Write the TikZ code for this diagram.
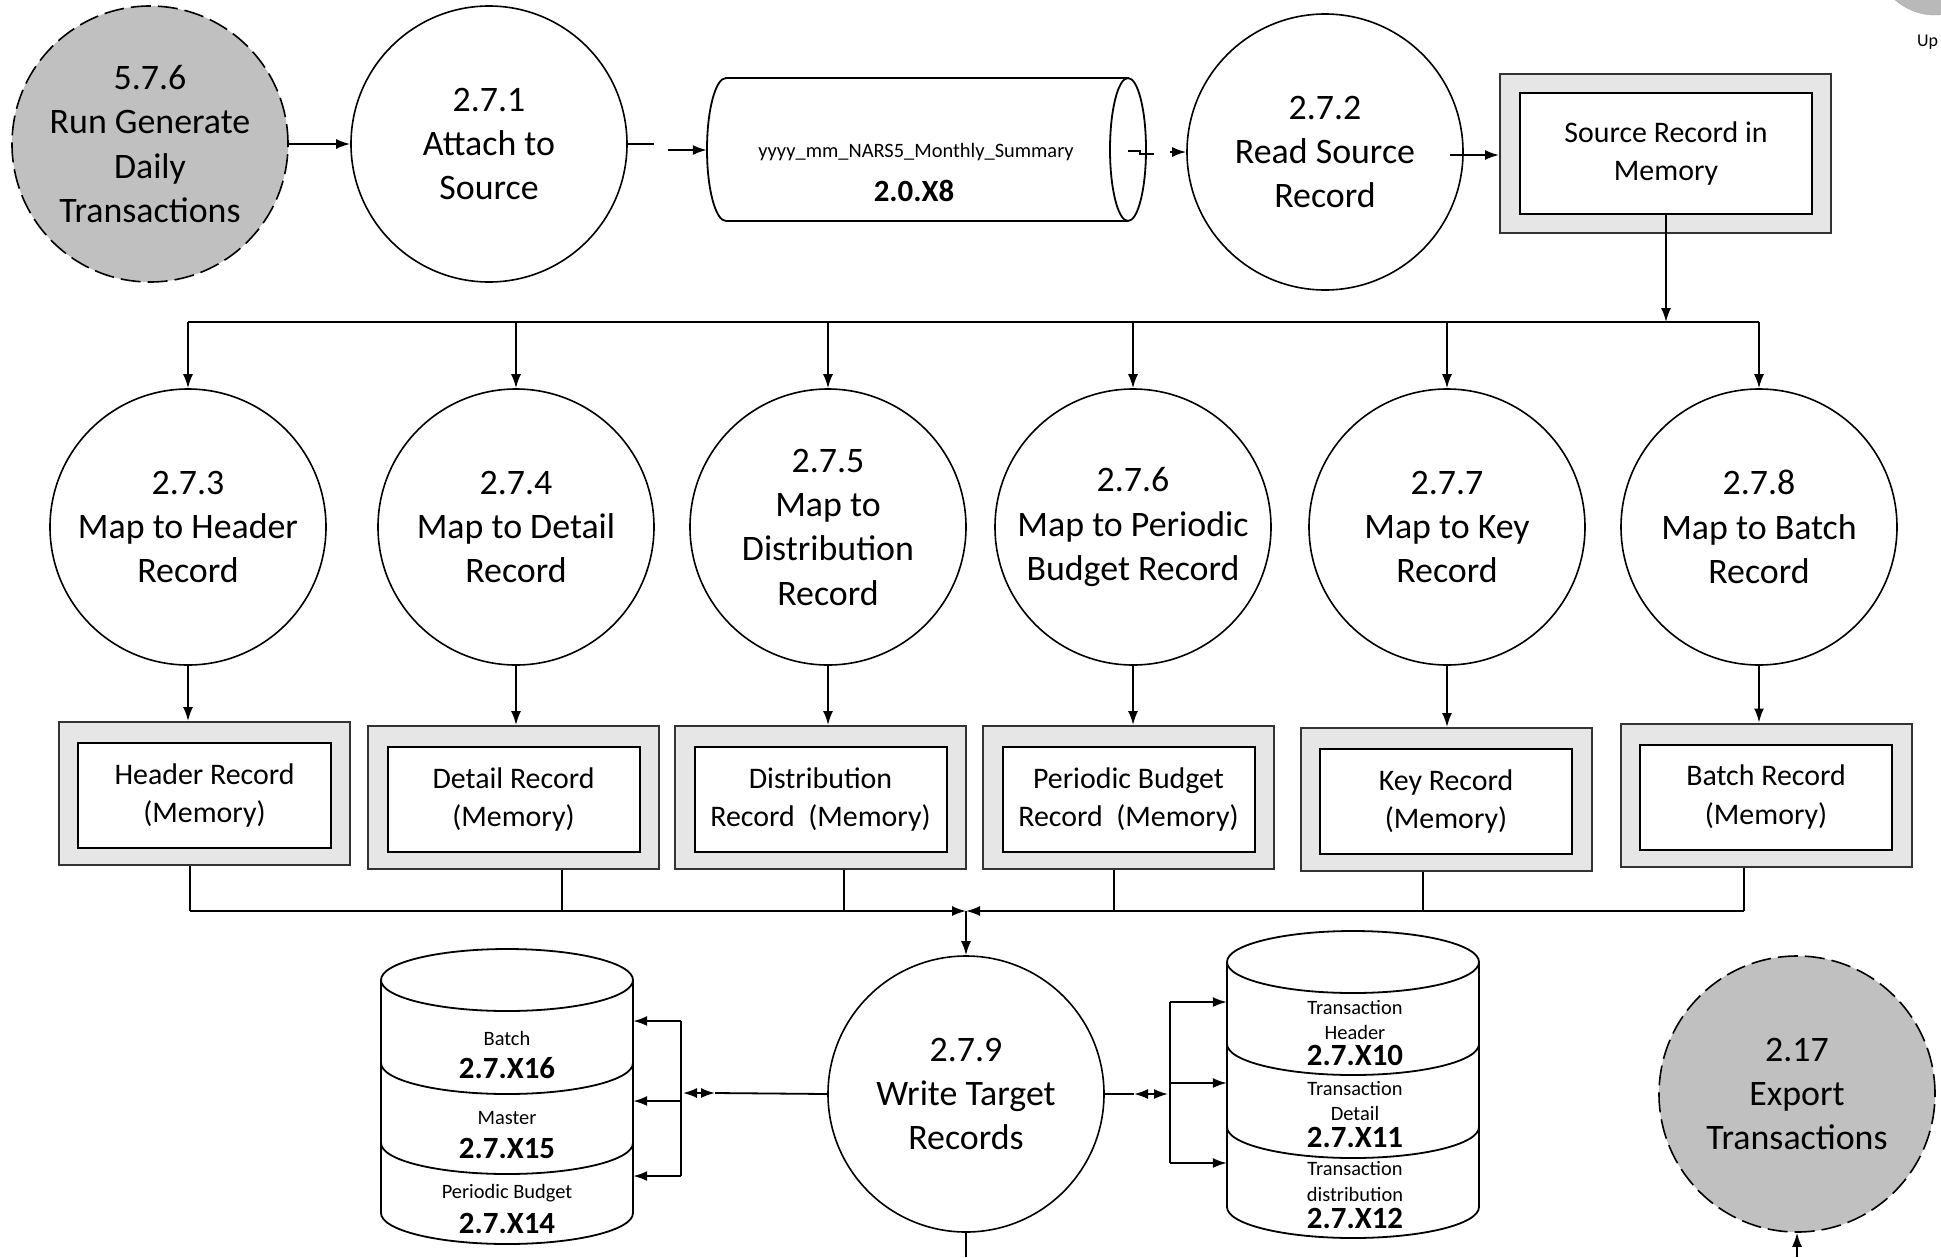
\documentclass[tikz,border=0pt]{standalone}
\usepackage{fontspec}
\setmainfont{Carlito}
\usetikzlibrary{arrows.meta,calc}
\definecolor{extgray}{HTML}{C0C0C0}
\definecolor{memgray}{HTML}{E6E6E6}
\definecolor{darkline}{HTML}{333333}
\begin{document}
\begin{tikzpicture}[x=1bp,y=-1bp,
  proc/.style={circle,draw,line width=1.6bp,minimum size=276bp,inner sep=0pt,align=center,font=\fontsize{36}{44.5}\selectfont},
  ext/.style={proc,fill=extgray,dash pattern=on 20bp off 7bp},
  memout/.style={draw=darkline,fill=memgray,line width=2bp,minimum width=291bp,minimum height=143bp,inner sep=0pt},
  memin/.style={draw,fill=white,line width=2bp,minimum width=252bp,minimum height=105bp,inner sep=0pt,align=center,font=\fontsize{30}{39}\selectfont},
  flow/.style={line width=1.8bp,-{Latex[length=14bp,width=10bp]}},
  dflow/.style={line width=1.8bp,{Latex[length=14bp,width=10bp]}-{Latex[length=14bp,width=10bp]}},
  wire/.style={line width=1.8bp},
  shapeline/.style={line width=1.8bp},
  smalltxt/.style={inner sep=0pt,font=\fontsize{20.5}{25}\selectfont},
  codetxt/.style={inner sep=0pt,font=\fontsize{31}{36}\selectfont\bfseries},
]
\path[use as bounding box, fill=white] (0,0) rectangle (1941,1257);

% partial element top right
\fill[gray!55, draw=gray!70] (1935,-45) circle (60);
\node[anchor=west, inner sep=0pt, font=\fontsize{18}{20}\selectfont] (uptxt) at (1917,42) {Up};

% ---------- top row ----------
\node[ext] (c576) at (150,144) {5.7.6\\Run Generate\\Daily\\Transactions};
\node[proc] (c1) at (489,144) {2.7.1\\Attach to\\Source};

% horizontal cylinder data store
\node[minimum width=440bp, minimum height=143bp, inner sep=0pt] (hcyl) at (927,150) {};
\draw[shapeline] (1128,78) -- (726,78) arc[start angle=270,end angle=90,x radius=19,y radius=71.5] -- (1128,221);
\draw[shapeline] (1128,149.5) ellipse[x radius=18,y radius=71.5];
\node[smalltxt] (hcylname) at (916,152) {yyyy\_mm\_NARS5\_Monthly\_Summary};
\node[codetxt] (hcylid) at (914,191) {2.0.X8};

\node[proc] (c2) at (1325,152) {2.7.2\\Read Source\\Record};

\node[memout, minimum width=331bp, minimum height=159bp] (srcout) at (1665.5,153.5) {};
\node[memin, minimum width=292bp, minimum height=121bp] (srcin) at (1666,153.5) {Source Record in\\Memory};

% top row connectors
\draw[flow] (c576.east) -- (c1.west);
\draw[wire] (c1.east) -- (654,144);
\draw[flow] (668,150) -- (hcyl.west |- 0,150);
\draw[wire] (1128,151) -- (1140,151) -- (1140,154) -- (1154,154);
\draw[flow] ($(c2.west)+(-16,0)$) -- (c2.west);
\draw[flow] ($(c2.east)+(-14,3)$) -- (srcout.west |- 0,155);

% ---------- distribution bus ----------
\coordinate (tbus) at (1666,322);
\coordinate (tl) at (188,322);
\coordinate (tr) at (1759,322);
\draw[flow] (srcin.south) -- (tbus);
\draw[wire] (tl) -- (tr);

% ---------- mapping processes ----------
\node[proc] (c3) at (188,527) {2.7.3\\Map to Header\\Record};
\node[proc] (c4) at (516,527) {2.7.4\\Map to Detail\\Record};
\node[proc] (c5) at (828,527) {2.7.5\\Map to\\Distribution\\Record};
\node[proc] (c6) at (1133,527) {2.7.6\\Map to Periodic\\Budget Record};
\node[proc] (c7) at (1447,527) {2.7.7\\Map to Key\\Record};
\node[proc] (c8) at (1759,527) {2.7.8\\Map to Batch\\Record};

\foreach \c in {c3,c4,c5,c6,c7,c8}
  \draw[flow] (\c.north |- tl) -- (\c.north);

% ---------- memory records ----------
\node[memout] (m3o) at (204.5,793.5) {};
\node[memin] (m3) at (204.5,795.5) {Header Record\\(Memory)};
\node[memout] (m4o) at (513.5,797.5) {};
\node[memin] (m4) at (513.5,799.5) {Detail Record\\(Memory)};
\node[memout] (m5o) at (820.5,797.5) {};
\node[memin] (m5) at (820.5,799.5) {Distribution\\Record\ \ (Memory)};
\node[memout] (m6o) at (1128.5,797.5) {};
\node[memin] (m6) at (1128.5,799.5) {Periodic Budget\\Record\ \ (Memory)};
\node[memout] (m7o) at (1446,799.5) {};
\node[memin] (m7) at (1446,801.5) {Key Record\\(Memory)};
\node[memout] (m8o) at (1766,795) {};
\node[memin] (m8) at (1766,797) {Batch Record\\(Memory)};

\draw[flow] (c3.south) -- (c3.south |- m3o.north);
\draw[flow] (c4.south) -- (c4.south |- m4o.north);
\draw[flow] (c5.south) -- (c5.south |- m5o.north);
\draw[flow] (c6.south) -- (c6.south |- m6o.north);
\draw[flow] (c7.south) -- (c7.south |- m7o.north);
\draw[flow] (c8.south) -- (c8.south |- m8o.north);

% ---------- collecting bus ----------
\coordinate (b3) at (190,911);
\coordinate (b4) at (562,911);
\coordinate (b5) at (844,911);
\coordinate (b6) at (1114,911);
\coordinate (b7) at (1423,911);
\coordinate (b8) at (1744,911);
\coordinate (merge) at (966,911);
\draw[wire] (b3 |- m3o.south) -- (b3);
\draw[wire] (b4 |- m4o.south) -- (b4);
\draw[wire] (b5 |- m5o.south) -- (b5);
\draw[wire] (b6 |- m6o.south) -- (b6);
\draw[wire] (b7 |- m7o.south) -- (b7);
\draw[wire] (b8 |- m8o.south) -- (b8);
\draw[flow] (b3) -- (merge);
\draw[flow] (b8) -- (merge);

% ---------- write target ----------
\node[proc] (c9) at (966,1094) {2.7.9\\Write Target\\Records};
\draw[flow] (merge) -- (c9.north);
\coordinate (c9out) at (966,1257);
\draw[wire] (c9.south) -- (c9out);

% left cylinder
\node[minimum width=252bp, minimum height=295bp, inner sep=0pt] (lcyl) at (507,1096) {};
\draw[shapeline] (507,980) ellipse[x radius=126,y radius=31];
\draw[shapeline] (381,980) -- (381,1213) arc[start angle=180,end angle=0,x radius=126,y radius=31] -- (633,980);
\draw[shapeline] (381,1063) arc[start angle=180,end angle=0,x radius=126,y radius=31];
\draw[shapeline] (381,1143) arc[start angle=180,end angle=0,x radius=126,y radius=31];
\node[smalltxt] (l1a) at (507,1038) {Batch};
\node[codetxt] (l1b) at (507,1068) {2.7.X16};
\node[smalltxt] (l2a) at (507,1118) {Master};
\node[codetxt] (l2b) at (507,1148) {2.7.X15};
\node[smalltxt] (l3a) at (507,1193) {Periodic Budget};
\node[codetxt] (l3b) at (507,1223) {2.7.X14};

% right cylinder
\node[minimum width=252bp, minimum height=307bp, inner sep=0pt] (rcyl) at (1353,1084.5) {};
\draw[shapeline] (1353,962) ellipse[x radius=126,y radius=31];
\draw[shapeline] (1227,962) -- (1227,1207) arc[start angle=180,end angle=0,x radius=126,y radius=31] -- (1479,962);
\draw[shapeline] (1227,1044) arc[start angle=180,end angle=0,x radius=126,y radius=31];
\draw[shapeline] (1227,1127) arc[start angle=180,end angle=0,x radius=126,y radius=31];
\node[smalltxt] (r1a) at (1355,1007) {Transaction};
\node[smalltxt] (r1b) at (1355,1032) {Header};
\node[codetxt] (r1c) at (1355,1055) {2.7.X10};
\node[smalltxt] (r2a) at (1355,1088) {Transaction};
\node[smalltxt] (r2b) at (1355,1113) {Detail};
\node[codetxt] (r2c) at (1355,1137) {2.7.X11};
\node[smalltxt] (r3a) at (1355,1168) {Transaction};
\node[smalltxt] (r3b) at (1355,1194) {distribution};
\node[codetxt] (r3c) at (1355,1218) {2.7.X12};

% left connectors
\coordinate (lbarT) at (681,1021);
\coordinate (lbarM) at (681,1101);
\coordinate (lbarB) at (681,1176);
\draw[wire] (lbarT) -- (lbarB);
\draw[dflow] (683,1093) -- (715,1093);
\draw[wire] (715,1093) -- (c9.west);
\draw[flow] (lbarT) -- (lcyl.east |- lbarT);
\draw[flow] (lbarM) -- (lcyl.east |- lbarM);
\draw[flow] (lbarB) -- (lcyl.east |- lbarB);

% right connectors
\coordinate (rbarT) at (1170,1002);
\coordinate (rbarM) at (1170,1083);
\coordinate (rbarB) at (1170,1163);
\draw[wire] (rbarT) -- (rbarB);
\draw[wire] (c9.east) -- (1134,1094);
\draw[dflow] (1134,1094) -- (1168,1094);
\draw[flow] (rbarT) -- (rcyl.west |- rbarT);
\draw[flow] (rbarM) -- (rcyl.west |- rbarM);
\draw[flow] (rbarB) -- (rcyl.west |- rbarB);

% export
\node[ext] (c17) at (1797,1094) {2.17\\Export\\Transactions};
\coordinate (c17in) at (1797,1257);
\draw[flow] (c17in) -- (c17.south);
\end{tikzpicture}
\end{document}
